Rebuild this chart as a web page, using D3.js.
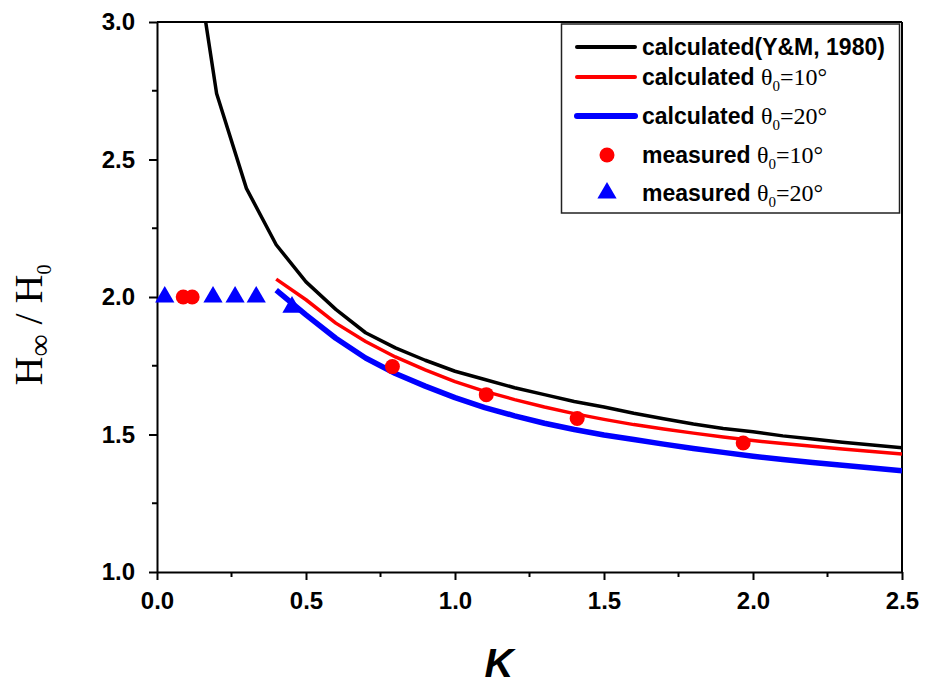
<!DOCTYPE html>
<html>
<head>
<meta charset="utf-8">
<script src="https://cdn.jsdelivr.net/npm/d3@7"></script>
<style>
  html, body { margin: 0; padding: 0; background: #fff; }
  svg { display: block; }
</style>
</head>
<body>
<svg id="chart" width="925" height="686"></svg>
<script>
// ---- data ----
const kBlack = [0.1, 0.2, 0.3, 0.4, 0.5, 0.6, 0.7, 0.8, 0.9, 1.0, 1.1, 1.2, 1.3, 1.4, 1.5, 1.6, 1.7, 1.8, 1.9, 2.0, 2.1, 2.2, 2.3, 2.4, 2.5];
const hBlack = [3.45, 2.74, 2.395, 2.19, 2.055, 1.955, 1.87, 1.815, 1.77, 1.73, 1.70, 1.67, 1.645, 1.62, 1.60, 1.577, 1.557, 1.538, 1.522, 1.51, 1.495, 1.484, 1.472, 1.462, 1.452];

const kCalc = [0.4, 0.5, 0.6, 0.7, 0.8, 0.9, 1.0, 1.1, 1.2, 1.3, 1.4, 1.5, 1.6, 1.7, 1.8, 1.9, 2.0, 2.1, 2.2, 2.3, 2.4, 2.5];
const hRed10 = [2.065, 1.99, 1.905, 1.838, 1.782, 1.735, 1.692, 1.657, 1.627, 1.60, 1.576, 1.555, 1.536, 1.52, 1.505, 1.491, 1.478, 1.467, 1.457, 1.447, 1.438, 1.429];
const hBlue20 = [2.025, 1.935, 1.85, 1.778, 1.722, 1.676, 1.634, 1.598, 1.568, 1.541, 1.518, 1.498, 1.482, 1.465, 1.449, 1.435, 1.421, 1.409, 1.398, 1.388, 1.378, 1.368];

const kMeas10 = [0.088, 0.118, 0.79, 1.105, 1.41, 1.967];
const hMeas10 = [2.0, 2.0, 1.747, 1.645, 1.558, 1.469];

const kMeas20 = [0.026, 0.188, 0.262, 0.333, 0.453];
const hMeas20 = [2.0, 2.0, 2.0, 2.0, 1.963];

const xTicks = [0.0, 0.5, 1.0, 1.5, 2.0, 2.5];
const yTicks = [1.0, 1.5, 2.0, 2.5, 3.0];
const xMinor = [0.25, 0.75, 1.25, 1.75, 2.25];
const yMinor = [1.25, 1.75, 2.25, 2.75];

// ---- layout ----
const svg = d3.select("#chart");
const L = 157, R = 902, T = 22, B = 572;
const x = d3.scaleLinear().domain([0, 2.5]).range([L, R]);
const y = d3.scaleLinear().domain([1, 3]).range([B, T]);

svg.append("defs").append("clipPath").attr("id", "clip")
  .append("rect").attr("x", L).attr("y", T).attr("width", R - L).attr("height", B - T);

// frame (top & right)
svg.append("line").attr("x1", L).attr("x2", R).attr("y1", T).attr("y2", T).attr("stroke", "#000").attr("stroke-width", 2);
svg.append("line").attr("x1", R).attr("x2", R).attr("y1", T).attr("y2", B).attr("stroke", "#000").attr("stroke-width", 2);

// axes
const xAxis = d3.axisBottom(x).tickValues(xTicks).tickFormat(d3.format(".1f")).tickSize(8).tickPadding(12).tickSizeOuter(0);
const yAxis = d3.axisLeft(y).tickValues(yTicks).tickFormat(d3.format(".1f")).tickSize(8).tickPadding(14).tickSizeOuter(0);

const gx = svg.append("g").attr("transform", `translate(0,${B})`).call(xAxis);
const gy = svg.append("g").attr("transform", `translate(${L},0)`).call(yAxis);
[gx, gy].forEach(g => {
  g.select(".domain").attr("stroke", "#000").attr("stroke-width", 2);
  g.selectAll(".tick line").attr("stroke", "#000").attr("stroke-width", 2);
  g.selectAll(".tick text").attr("fill", "#000")
    .style("font-family", "'Liberation Sans', Arial, sans-serif")
    .style("font-weight", "bold").style("font-size", "24px");
});
// minor ticks
svg.append("g").selectAll("line").data(xMinor).join("line")
  .attr("x1", d => x(d)).attr("x2", d => x(d)).attr("y1", B).attr("y2", B + 5)
  .attr("stroke", "#000").attr("stroke-width", 2);
svg.append("g").selectAll("line").data(yMinor).join("line")
  .attr("x1", L).attr("x2", L - 5).attr("y1", d => y(d)).attr("y2", d => y(d))
  .attr("stroke", "#000").attr("stroke-width", 2);

// axis titles
svg.append("text").attr("x", 499).attr("y", 677).attr("text-anchor", "middle")
  .style("font-family", "'Liberation Sans', Arial, sans-serif").style("font-weight", "bold")
  .style("font-style", "italic").style("font-size", "40px").text("K");

const yt = svg.append("text").attr("transform", "translate(42,325) rotate(-90)")
  .attr("text-anchor", "middle")
  .style("font-family", "'Liberation Serif', 'Times New Roman', serif").style("font-size", "40px");
yt.append("tspan").text("H");
yt.append("tspan").attr("dy", 8).style("font-size", "31px").text("∞");
yt.append("tspan").attr("dy", -8).text(" / H");
yt.append("tspan").attr("dy", 9).style("font-size", "20px").text("0");

// curves
const plot = svg.append("g").attr("clip-path", "url(#clip)");
const line = d3.line().x(d => x(d[0])).y(d => y(d[1]));
plot.append("path").datum(d3.zip(kBlack, hBlack)).attr("d", line)
  .attr("fill", "none").attr("stroke", "#000").attr("stroke-width", 3.5).attr("stroke-linejoin", "round");
plot.append("path").datum(d3.zip(kCalc, hRed10)).attr("d", line)
  .attr("fill", "none").attr("stroke", "#ff0000").attr("stroke-width", 3.5).attr("stroke-linejoin", "round");
plot.append("path").datum(d3.zip(kCalc, hBlue20)).attr("d", line)
  .attr("fill", "none").attr("stroke", "#0000ff").attr("stroke-width", 5.5).attr("stroke-linejoin", "round");

// markers
const tri = d3.symbol().type(d3.symbolTriangle).size(160);
svg.append("g").selectAll("path").data(d3.zip(kMeas20, hMeas20)).join("path")
  .attr("d", tri).attr("transform", d => `translate(${x(d[0])},${y(d[1])})`).attr("fill", "#0000ff");
svg.append("g").selectAll("circle").data(d3.zip(kMeas10, hMeas10)).join("circle")
  .attr("cx", d => x(d[0])).attr("cy", d => y(d[1])).attr("r", 7.5).attr("fill", "#ff0000");

// legend
const lg = svg.append("g");
lg.append("rect").attr("x", 561.5).attr("y", 24).attr("width", 338).attr("height", 189)
  .attr("fill", "#fff").attr("stroke", "#222").attr("stroke-width", 1.5);
const rows = [
  { type: "line", color: "#000", w: 4, label: "calculated(Y&M, 1980)", th: null, yy: 47 },
  { type: "line", color: "#ff0000", w: 4, label: "calculated ", th: "10", yy: 77 },
  { type: "line", color: "#0000ff", w: 6, label: "calculated ", th: "20", yy: 116 },
  { type: "circle", color: "#ff0000", label: "measured ", th: "10", yy: 155 },
  { type: "tri", color: "#0000ff", label: "measured ", th: "20", yy: 193 }
];
rows.forEach(r => {
  if (r.type === "line") {
    lg.append("line").attr("x1", 577).attr("x2", 635).attr("y1", r.yy).attr("y2", r.yy)
      .attr("stroke", r.color).attr("stroke-width", r.w).attr("stroke-linecap", "round");
  } else if (r.type === "circle") {
    lg.append("circle").attr("cx", 607).attr("cy", r.yy).attr("r", 7.5).attr("fill", r.color);
  } else {
    lg.append("path").attr("d", tri).attr("transform", `translate(607,${r.yy})`).attr("fill", r.color);
  }
  const t = lg.append("text").attr("x", 642).attr("y", r.yy + 8)
    .style("font-family", "'Liberation Sans', Arial, sans-serif").style("font-weight", "bold").style("font-size", "23px");
  t.append("tspan").text(r.label);
  if (r.th) {
    const serif = "'Liberation Serif', 'Times New Roman', serif";
    t.append("tspan").style("font-family", serif).style("font-weight", "normal").style("font-size", "24px").text("θ");
    t.append("tspan").attr("dy", 6).style("font-family", serif).style("font-weight", "normal").style("font-size", "15px").text("0");
    t.append("tspan").attr("dy", -6).style("font-family", serif).style("font-weight", "normal").style("font-size", "24px").text("=" + r.th + "°");
  }
});
</script>
</body>
</html>
